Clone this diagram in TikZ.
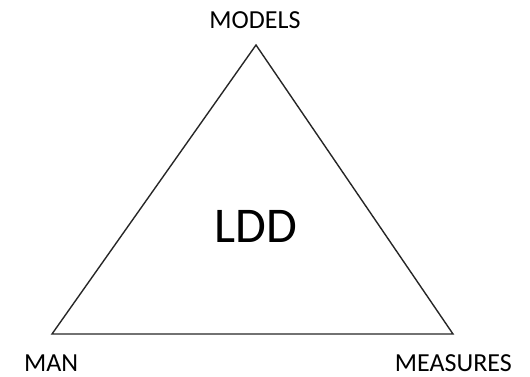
\documentclass[tikz,border=0pt]{standalone}
\usepackage{fontspec}
\setmainfont{Carlito}
\begin{document}
\begin{tikzpicture}[x=1bp,y=-1bp,
  lbl/.style={inner sep=0pt,font=\fontsize{26bp}{28bp}\selectfont},
  edge/.style={draw=black!85,line width=1.4bp,line join=miter}]
\useasboundingbox (0,0) rectangle (530,376);
\coordinate (top) at (256,45);
\coordinate (bl) at (52,334);
\coordinate (br) at (453,334);
\draw[edge] (top) -- (bl) -- (br) -- cycle;
\node[lbl,anchor=base] (models) at (255,28) {MODELS};
\node[lbl,anchor=base west] (man) at (24,371) {MAN};
\node[lbl,anchor=base east] (measures) at (512,371) {MEASURES};
\node[inner sep=0pt,anchor=base,font=\fontsize{50bp}{54bp}\selectfont] (ldd) at (256,242) {LDD};
\end{tikzpicture}
\end{document}
